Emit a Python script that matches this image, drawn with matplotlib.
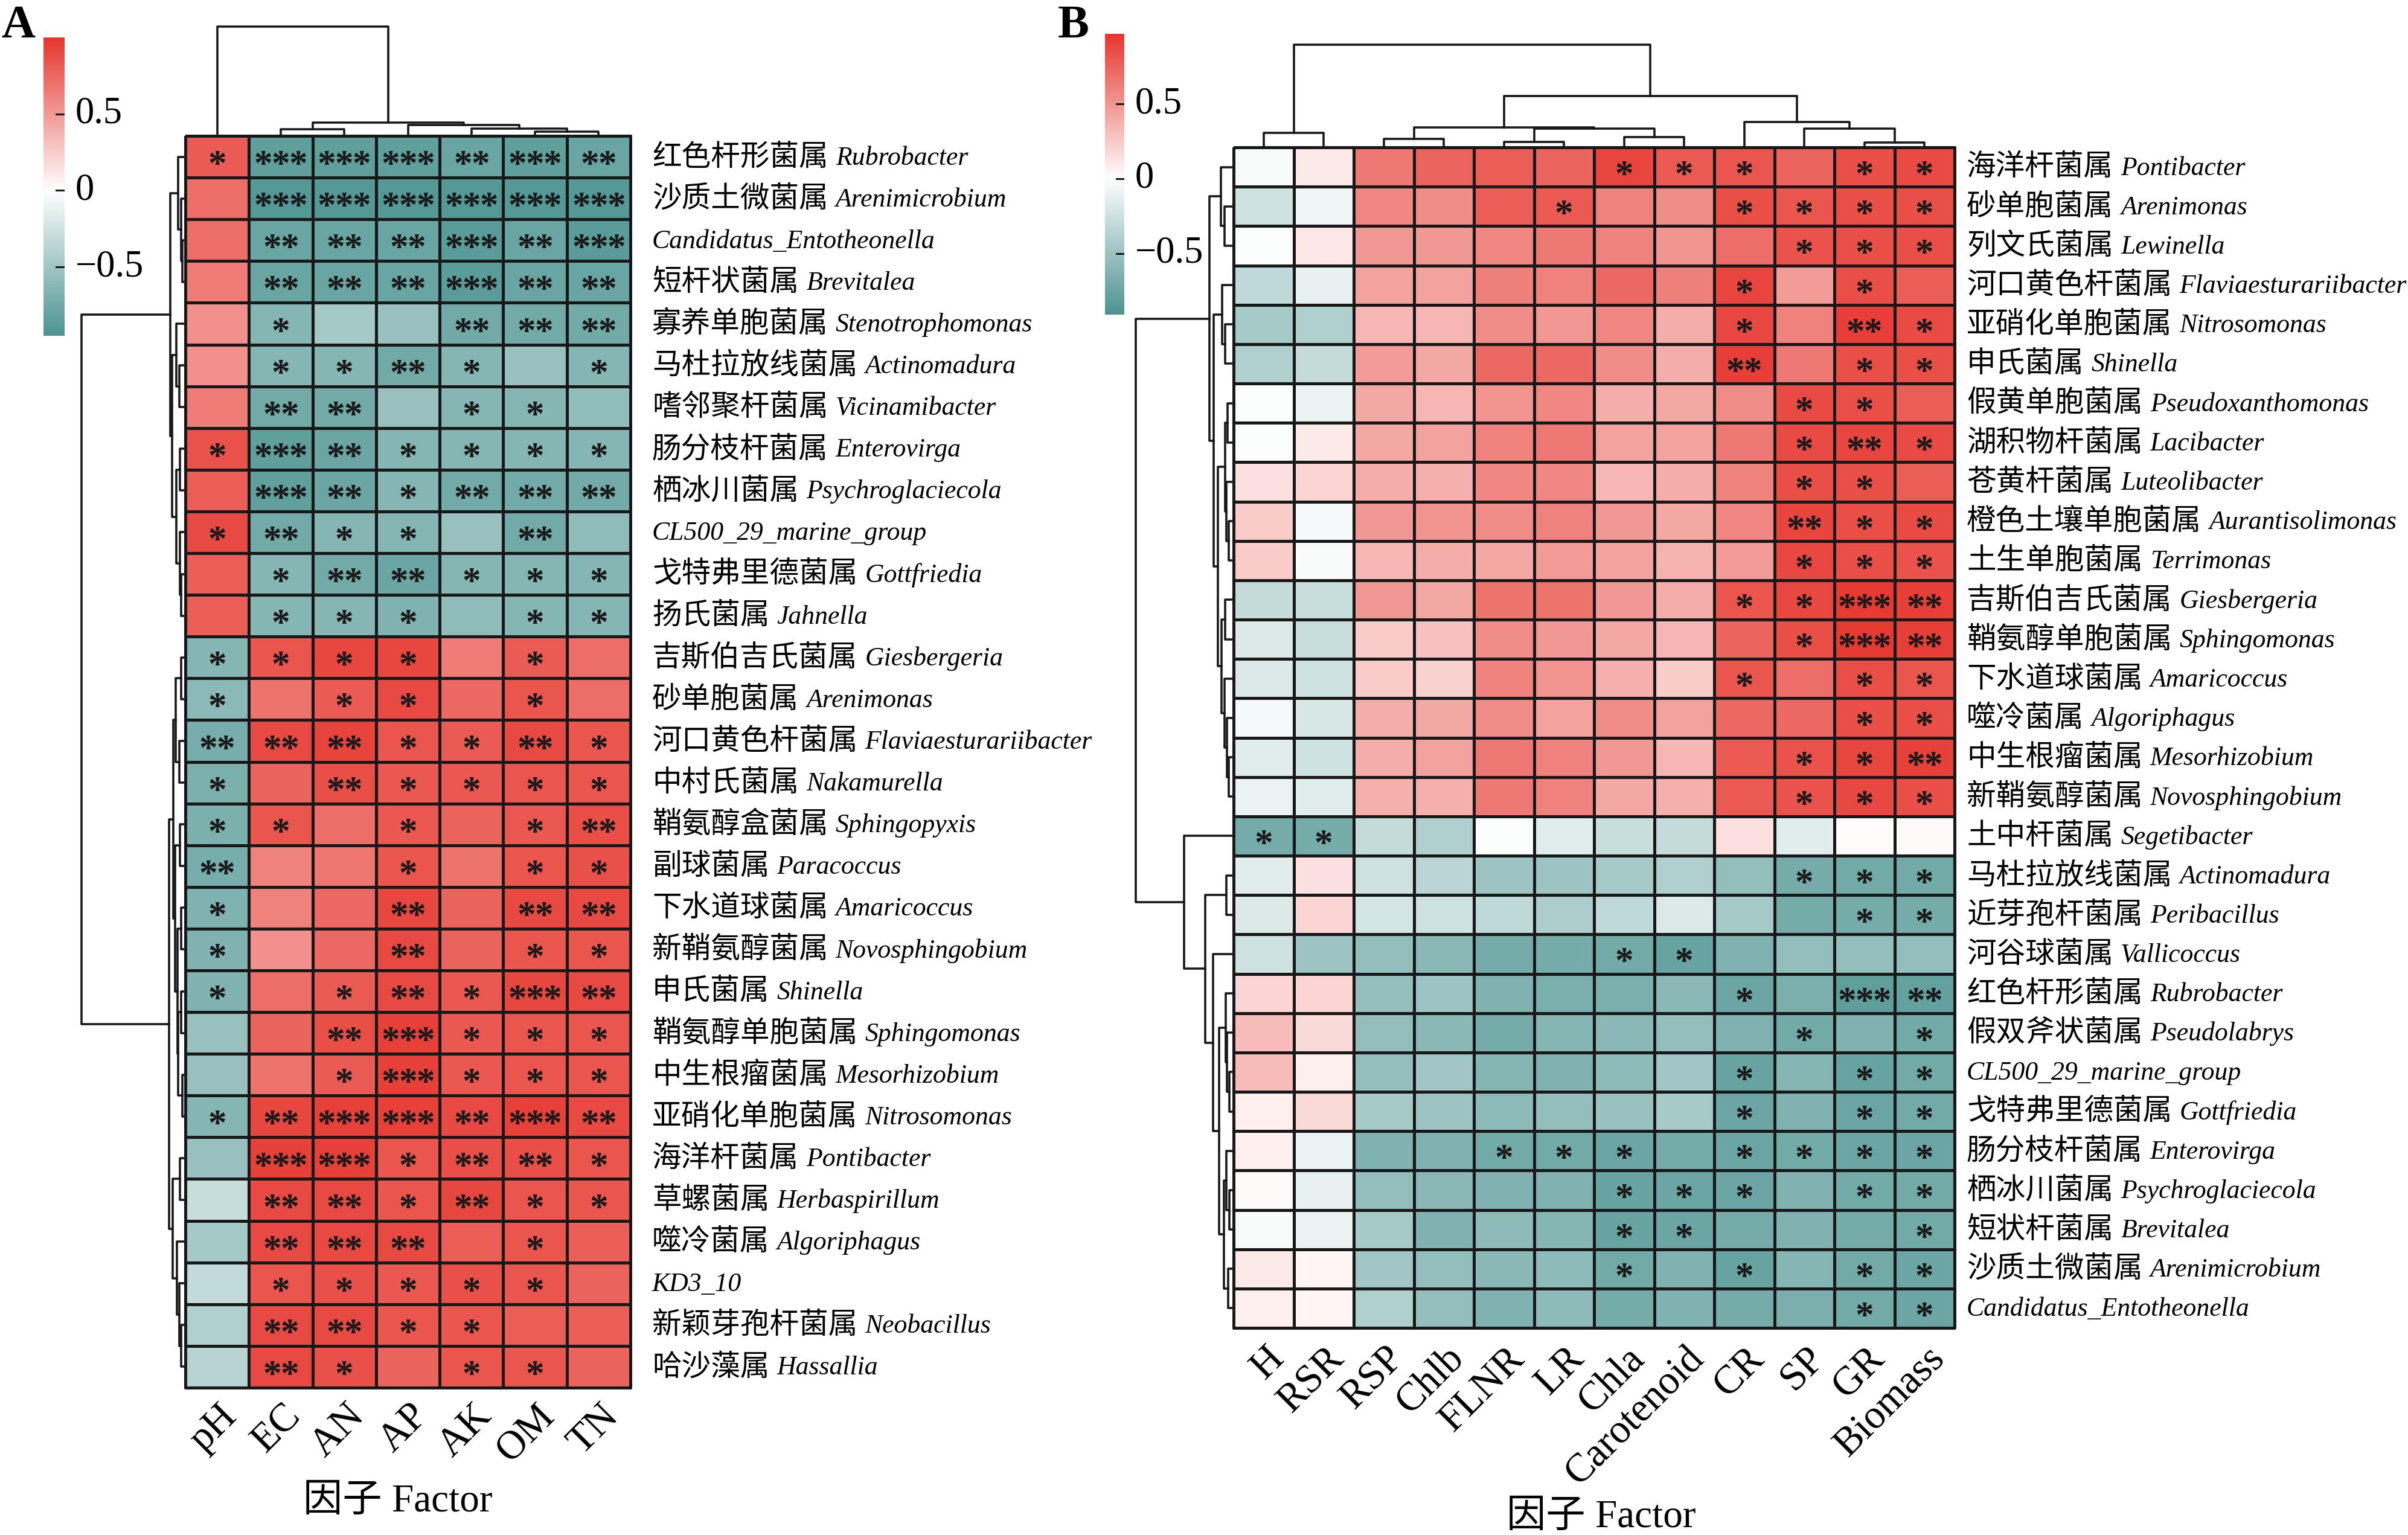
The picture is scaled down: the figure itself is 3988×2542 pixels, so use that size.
import matplotlib
matplotlib.use("Agg")
import matplotlib.pyplot as plt
import numpy as np
from matplotlib.colors import LinearSegmentedColormap, TwoSlopeNorm
from matplotlib.transforms import ScaledTranslation

# ---------------------------------------------------------------- data (A)
A_CN = ["红色杆形菌属", "沙质土微菌属", "", "短杆状菌属", "寡养单胞菌属", "马杜拉放线菌属",
        "嗜邻聚杆菌属", "肠分枝杆菌属", "栖冰川菌属", "", "戈特弗里德菌属", "扬氏菌属",
        "吉斯伯吉氏菌属", "砂单胞菌属", "河口黄色杆菌属", "中村氏菌属", "鞘氨醇盒菌属", "副球菌属",
        "下水道球菌属", "新鞘氨醇菌属", "申氏菌属", "鞘氨醇单胞菌属", "中生根瘤菌属", "亚硝化单胞菌属",
        "海洋杆菌属", "草螺菌属", "噬冷菌属", "", "新颖芽孢杆菌属", "哈沙藻属"]
A_LAT = ["Rubrobacter", "Arenimicrobium", "Candidatus_Entotheonella", "Brevitalea",
         "Stenotrophomonas", "Actinomadura", "Vicinamibacter", "Enterovirga", "Psychroglaciecola",
         "CL500_29_marine_group", "Gottfriedia", "Jahnella", "Giesbergeria", "Arenimonas",
         "Flaviaesturariibacter", "Nakamurella", "Sphingopyxis", "Paracoccus", "Amaricoccus",
         "Novosphingobium", "Shinella", "Sphingomonas", "Mesorhizobium", "Nitrosomonas",
         "Pontibacter", "Herbaspirillum", "Algoriphagus", "KD3_10", "Neobacillus", "Hassallia"]
A_COLS = ["pH", "EC", "AN", "AP", "AK", "OM", "TN"]

A_PH = [0.82, 0.72, 0.72, 0.65, 0.55, 0.55, 0.65, 0.86, 0.80, 0.90, 0.80, 0.80,
        -0.65, -0.62, -0.72, -0.70, -0.70, -0.72, -0.68, -0.68, -0.68, -0.55, -0.55, -0.65,
        -0.55, -0.30, -0.48, -0.32, -0.42, -0.38]
A_EC = [-0.85, -0.90, -0.80, -0.80, -0.65, -0.65, -0.75, -0.85, -0.85, -0.75, -0.65, -0.65,
        0.85, 0.70, 0.90, 0.78, 0.85, 0.62, 0.62, 0.55, 0.72, 0.78, 0.70, 0.92,
        0.95, 0.90, 0.90, 0.85, 0.90, 0.90]
A_AN = [-0.85, -0.90, -0.80, -0.80, -0.48, -0.65, -0.75, -0.78, -0.78, -0.65, -0.75, -0.65,
        0.92, 0.82, 0.93, 0.88, 0.72, 0.68, 0.75, 0.75, 0.82, 0.88, 0.82, 0.95,
        0.95, 0.90, 0.90, 0.87, 0.90, 0.87]
A_AP = [-0.85, -0.90, -0.80, -0.80, -0.55, -0.75, -0.55, -0.65, -0.65, -0.65, -0.78, -0.68,
        0.92, 0.90, 0.85, 0.83, 0.83, 0.85, 0.92, 0.90, 0.90, 0.95, 0.95, 0.95,
        0.85, 0.85, 0.90, 0.83, 0.85, 0.78]
A_AK = [-0.80, -0.90, -0.88, -0.88, -0.75, -0.65, -0.65, -0.65, -0.75, -0.55, -0.65, -0.60,
        0.65, 0.75, 0.82, 0.83, 0.78, 0.70, 0.78, 0.78, 0.83, 0.83, 0.83, 0.90,
        0.88, 0.92, 0.80, 0.87, 0.85, 0.85]
A_OM = [-0.85, -0.90, -0.80, -0.80, -0.75, -0.55, -0.65, -0.65, -0.75, -0.75, -0.65, -0.65,
        0.82, 0.85, 0.90, 0.85, 0.83, 0.85, 0.90, 0.85, 0.92, 0.85, 0.85, 0.95,
        0.88, 0.85, 0.85, 0.85, 0.80, 0.85]
A_TN = [-0.80, -0.90, -0.88, -0.80, -0.75, -0.65, -0.58, -0.65, -0.75, -0.60, -0.65, -0.65,
        0.72, 0.72, 0.85, 0.85, 0.88, 0.87, 0.90, 0.85, 0.90, 0.85, 0.85, 0.90,
        0.85, 0.85, 0.80, 0.78, 0.80, 0.78]

A_PH_SIG = [1, 0, 0, 0, 0, 0, 0, 1, 0, 1, 0, 0, 1, 1, 2, 1, 1, 2, 1, 1, 1, 0, 0, 1, 0, 0, 0, 0, 0, 0]
A_EC_SIG = [3, 3, 2, 2, 1, 1, 2, 3, 3, 2, 1, 1, 1, 0, 2, 0, 1, 0, 0, 0, 0, 0, 0, 2, 3, 2, 2, 1, 2, 2]
A_AN_SIG = [3, 3, 2, 2, 0, 1, 2, 2, 2, 1, 2, 1, 1, 1, 2, 2, 0, 0, 0, 0, 1, 2, 1, 3, 3, 2, 2, 1, 2, 1]
A_AP_SIG = [3, 3, 2, 2, 0, 2, 0, 1, 1, 1, 2, 1, 1, 1, 1, 1, 1, 1, 2, 2, 2, 3, 3, 3, 1, 1, 2, 1, 1, 0]
A_AK_SIG = [2, 3, 3, 3, 2, 1, 1, 1, 2, 0, 1, 0, 0, 0, 1, 1, 0, 0, 0, 0, 1, 1, 1, 2, 2, 2, 0, 1, 1, 1]
A_OM_SIG = [3, 3, 2, 2, 2, 0, 1, 1, 2, 2, 1, 1, 1, 1, 2, 1, 1, 1, 2, 1, 3, 1, 1, 3, 2, 1, 1, 1, 0, 1]
A_TN_SIG = [2, 3, 3, 2, 2, 1, 0, 1, 2, 0, 1, 1, 0, 0, 1, 1, 2, 1, 2, 1, 2, 1, 1, 2, 1, 1, 0, 0, 0, 0]

# merge trees: [height, left, right], leaves are row / column indices
A_ROW_TREE = [172,
              [25,
               [12, 0, [7, 1, [5, 2, 3]]],
               [22,
                [15, 4, [10, 5, 6]],
                [15, [9, 7, 8], [9, 9, [7, 10, 11]]]]],
              [27,
               [20,
                [16, [7, 12, 13], [10, 14, 15]],
                [17, [9, 16, 17], [13, [7, 18, 19], [12, [7, 20, 21], [5, 22, 23]]]]],
               [21, [9, 24, 25], [14, 26, [10, 27, [7, 28, 29]]]]]]
A_COL_TREE = [181, 0, [22, [11, 1, 2], [18, 3, [12, 4, [7, 5, 6]]]]]
A_RANGE = (-0.95, 1.0)

# ---------------------------------------------------------------- data (B)
B_CN = ["海洋杆菌属", "砂单胞菌属", "列文氏菌属", "河口黄色杆菌属", "亚硝化单胞菌属", "申氏菌属",
        "假黄单胞菌属", "湖积物杆菌属", "苍黄杆菌属", "橙色土壤单胞菌属", "土生单胞菌属",
        "吉斯伯吉氏菌属", "鞘氨醇单胞菌属", "下水道球菌属", "噬冷菌属", "中生根瘤菌属", "新鞘氨醇菌属",
        "土中杆菌属", "马杜拉放线菌属", "近芽孢杆菌属", "河谷球菌属", "红色杆形菌属", "假双斧状菌属",
        "", "戈特弗里德菌属", "肠分枝杆菌属", "栖冰川菌属", "短状杆菌属", "沙质土微菌属", ""]
B_LAT = ["Pontibacter", "Arenimonas", "Lewinella", "Flaviaesturariibacter", "Nitrosomonas",
         "Shinella", "Pseudoxanthomonas", "Lacibacter", "Luteolibacter", "Aurantisolimonas",
         "Terrimonas", "Giesbergeria", "Sphingomonas", "Amaricoccus", "Algoriphagus",
         "Mesorhizobium", "Novosphingobium", "Segetibacter", "Actinomadura", "Peribacillus",
         "Vallicoccus", "Rubrobacter", "Pseudolabrys", "CL500_29_marine_group", "Gottfriedia",
         "Enterovirga", "Psychroglaciecola", "Brevitalea", "Arenimicrobium",
         "Candidatus_Entotheonella"]
B_COLS = ["H", "RSR", "RSP", "Chlb", "FLNR", "LR", "Chla", "Carotenoid", "CR", "SP", "GR", "Biomass"]

B_H = [-0.03, -0.25, -0.02, -0.32, -0.45, -0.40, -0.02, -0.02, 0.15, 0.25, 0.25, -0.30, -0.18,
       -0.18, -0.05, -0.15, -0.10, -0.70, -0.15, -0.18, -0.25, 0.20, 0.32, 0.32, 0.08, 0.08,
       0.03, -0.03, 0.10, 0.08]
B_RSR = [0.10, -0.08, 0.12, -0.12, -0.40, -0.30, -0.10, 0.10, 0.20, -0.05, -0.03, -0.28, -0.28,
         -0.25, -0.20, -0.25, -0.15, -0.70, 0.15, 0.20, -0.50, 0.20, 0.18, 0.08, 0.18, -0.10,
         -0.12, -0.10, 0.05, 0.05]
B_RSP = [0.65, 0.58, 0.50, 0.45, 0.35, 0.48, 0.42, 0.42, 0.40, 0.50, 0.35, 0.50, 0.25,
         0.25, 0.40, 0.40, 0.38, -0.30, -0.25, -0.22, -0.55, -0.55, -0.55, -0.55, -0.45, -0.65,
         -0.55, -0.45, -0.48, -0.40]
B_CHLB = [0.75, 0.55, 0.50, 0.45, 0.35, 0.42, 0.35, 0.45, 0.38, 0.52, 0.40, 0.42, 0.30,
          0.22, 0.42, 0.45, 0.38, -0.40, -0.35, -0.25, -0.60, -0.50, -0.60, -0.48, -0.50, -0.65,
          -0.60, -0.65, -0.55, -0.55]
B_FLNR = [0.78, 0.78, 0.58, 0.62, 0.55, 0.72, 0.52, 0.60, 0.58, 0.55, 0.42, 0.68, 0.55,
          0.60, 0.55, 0.65, 0.65, -0.02, -0.50, -0.32, -0.70, -0.65, -0.70, -0.62, -0.58, -0.72,
          -0.65, -0.58, -0.60, -0.65]
B_LR = [0.75, 0.80, 0.65, 0.60, 0.50, 0.72, 0.58, 0.65, 0.58, 0.60, 0.48, 0.68, 0.50,
        0.52, 0.45, 0.60, 0.60, -0.15, -0.50, -0.42, -0.70, -0.68, -0.62, -0.65, -0.55, -0.72,
        -0.65, -0.62, -0.58, -0.58]
B_CHLA = [0.90, 0.60, 0.60, 0.72, 0.58, 0.55, 0.40, 0.45, 0.35, 0.50, 0.45, 0.50, 0.42,
          0.38, 0.55, 0.50, 0.42, -0.28, -0.45, -0.32, -0.72, -0.68, -0.60, -0.58, -0.52, -0.75,
          -0.78, -0.78, -0.72, -0.70]
B_CAROT = [0.80, 0.55, 0.52, 0.62, 0.40, 0.40, 0.42, 0.45, 0.40, 0.42, 0.37, 0.40, 0.35,
           0.25, 0.45, 0.35, 0.38, -0.30, -0.40, -0.18, -0.78, -0.60, -0.55, -0.48, -0.45, -0.70,
           -0.75, -0.75, -0.65, -0.65]
B_CR = [0.82, 0.85, 0.70, 0.90, 0.88, 0.93, 0.55, 0.65, 0.60, 0.58, 0.48, 0.82, 0.75,
        0.82, 0.72, 0.80, 0.80, 0.15, -0.55, -0.45, -0.65, -0.75, -0.65, -0.78, -0.75, -0.75,
        -0.75, -0.70, -0.78, -0.70]
B_SP = [0.75, 0.82, 0.83, 0.48, 0.60, 0.65, 0.87, 0.87, 0.85, 0.90, 0.88, 0.88, 0.85,
        0.70, 0.72, 0.83, 0.83, -0.15, -0.70, -0.70, -0.55, -0.68, -0.72, -0.62, -0.65, -0.72,
        -0.65, -0.65, -0.62, -0.68]
B_GR = [0.85, 0.85, 0.85, 0.85, 0.93, 0.85, 0.85, 0.90, 0.85, 0.85, 0.85, 0.95, 0.95,
        0.85, 0.85, 0.90, 0.88, 0.02, -0.72, -0.70, -0.55, -0.82, -0.65, -0.78, -0.75, -0.75,
        -0.72, -0.70, -0.72, -0.72]
B_BIO = [0.87, 0.85, 0.85, 0.78, 0.87, 0.85, 0.78, 0.87, 0.78, 0.87, 0.83, 0.93, 0.93,
         0.82, 0.85, 0.92, 0.85, 0.03, -0.72, -0.70, -0.55, -0.80, -0.72, -0.72, -0.72, -0.75,
         -0.72, -0.72, -0.75, -0.75]

B_H_SIG = [0] * 17 + [1] + [0] * 12
B_RSR_SIG = [0] * 17 + [1] + [0] * 12
B_RSP_SIG = [0] * 30
B_CHLB_SIG = [0] * 30
B_FLNR_SIG = [0] * 25 + [1, 0, 0, 0, 0]
B_LR_SIG = [0, 1] + [0] * 23 + [1, 0, 0, 0, 0]
B_CHLA_SIG = [1] + [0] * 19 + [1, 0, 0, 0, 0, 1, 1, 1, 1, 0]
B_CAROT_SIG = [1] + [0] * 19 + [1, 0, 0, 0, 0, 0, 1, 1, 0, 0]
B_CR_SIG = [1, 1, 0, 1, 1, 2, 0, 0, 0, 0, 0, 1, 0, 1, 0, 0, 0, 0, 0, 0, 0, 1, 0, 1, 1, 1, 1, 0, 1, 0]
B_SP_SIG = [0, 1, 1, 0, 0, 0, 1, 1, 1, 2, 1, 1, 1, 0, 0, 1, 1, 0, 1, 0, 0, 0, 1, 0, 0, 1, 0, 0, 0, 0]
B_GR_SIG = [1, 1, 1, 1, 2, 1, 1, 2, 1, 1, 1, 3, 3, 1, 1, 1, 1, 0, 1, 1, 0, 3, 0, 1, 1, 1, 1, 0, 1, 1]
B_BIO_SIG = [1, 1, 1, 0, 1, 1, 0, 1, 0, 1, 1, 2, 2, 1, 1, 2, 1, 0, 1, 1, 0, 2, 1, 1, 1, 1, 1, 1, 1, 1]

B_ROW_TREE = [162,
              [40,
               [21, 0, [15, 1, 2]],
               [33,
                [19, 3, [14, 4, 5]],
                [26,
                 [14, [10, 6, 7], [12, 8, [8, 9, 10]]],
                 [20, [14, 11, 12], [15, 13, [11, 14, [8, 15, 16]]]]]]],
              [82, 17,
               [47, [12, 18, 19],
                [34, 20,
                 [24, [13, 21, [11, 22, [7, 23, 24]]],
                  [16, [12, 25, [7, 26, 27]], [9, 28, 29]]]]]]]
B_COL_TREE = [170, [24, 0, 1],
              [85, [33, [14, 2, 3], [31, [9, 4, 5], [17, 6, 7]]],
               [42, 8, [31, 9, [8, 10, 11]]]]]
B_RANGE = (-0.91, 0.97)

# ---------------------------------------------------------------- figure
W, H = 3988, 2542
fig = plt.figure(figsize=(W / 100, H / 100), dpi=100)
fig.patch.set_facecolor("white")
renderer = fig.canvas.get_renderer()

CMAP = LinearSegmentedColormap.from_list("tealred", ["#4d9491", "#ffffff", "#e6372f"])
LINE = "#181818"
SERIF = ["Liberation Serif", "Noto Sans CJK SC"]
STAR_FS = 44
STAR_STEP = 29  # px between neighbouring stars


def px_axes(x0, y0, x1, y1):
    """Axes from pixel box (top-left origin)."""
    return fig.add_axes([x0 / W, 1 - y1 / H, (x1 - x0) / W, (y1 - y0) / H])


def ftext(x, y, s, **kw):
    return fig.text(x / W, 1 - y / H, s, **kw)


def draw_tree(ax, node, orient):
    if isinstance(node, int):
        return node + 0.5, 0.0
    h, left, right = node
    cl, hl = draw_tree(ax, left, orient)
    cr, hr = draw_tree(ax, right, orient)
    pos = [cl, cl, cr, cr]
    hts = [hl, h, h, hr]
    if orient == "left":
        ax.plot(hts, pos, color=LINE, lw=2.6, solid_capstyle="projecting", clip_on=False)
    else:
        ax.plot(pos, hts, color=LINE, lw=2.6, solid_capstyle="projecting", clip_on=False)
    return (cl + cr) / 2, h


def panel(box, values, sigs, cols, cn, lat, row_tree, col_tree, vrange,
          cbar_box, letter_xy, xlab_gap, factor_xy, lab_gap):
    x0, y0, x1, y1 = box
    data = np.array(values).T
    sig = np.array(sigs).T
    nr, nc = data.shape
    cw = (x1 - x0) / nc
    rh = (y1 - y0) / nr
    norm = TwoSlopeNorm(vmin=vrange[0], vcenter=0.0, vmax=vrange[1])

    ax = px_axes(x0, y0, x1, y1)
    mesh = ax.pcolormesh(np.arange(nc + 1), np.arange(nr + 1), data, cmap=CMAP, norm=norm,
                         edgecolors=LINE, linewidth=2.5)
    mesh.set_clip_on(False)
    ax.set_xlim(0, nc)
    ax.set_ylim(nr, 0)
    ax.axis("off")
    for i in range(nr):
        for j in range(nc):
            k = sig[i, j]
            for m in range(k):
                dx = (m - (k - 1) / 2) * STAR_STEP / 100
                tr = ax.transData + ScaledTranslation(dx, -0.50 * STAR_FS / 72,
                                                      fig.dpi_scale_trans)
                ax.text(j + 0.5, i + 0.5, "*", transform=tr, ha="center", va="baseline",
                        fontsize=STAR_FS, fontweight="bold", family="Liberation Serif",
                        color=LINE)

    # dendrograms
    rt = row_tree[0]
    axr = px_axes(x0 - rt, y0, x0, y1)
    draw_tree(axr, row_tree, "left")
    axr.set_xlim(rt, 0)
    axr.set_ylim(nr, 0)
    axr.axis("off")
    ct = col_tree[0]
    axc = px_axes(x0, y0 - ct, x1, y0)
    draw_tree(axc, col_tree, "top")
    axc.set_xlim(0, nc)
    axc.set_ylim(0, ct)
    axc.axis("off")

    # colour bar
    bx0, by0, bx1, by1 = cbar_box
    axb = px_axes(bx0, by0, bx1, by1)
    grad = np.linspace(vrange[0], vrange[1], 400)[:, None]
    axb.imshow(grad, cmap=CMAP, norm=norm, aspect="auto", origin="lower",
               extent=[0, 1, vrange[0], vrange[1]])
    for t, lab in [(0.5, "0.5"), (0.0, "0"), (-0.5, "\u22120.5")]:
        axb.plot([0.6, 1.0], [t, t], color=LINE, lw=2.2)
        yt = by1 - (t - vrange[0]) / (vrange[1] - vrange[0]) * (by1 - by0)
        ftext(bx1 + 18, yt, lab, fontsize=45, family="Liberation Serif", va="center", ha="left")
    axb.set_xlim(0, 1)
    axb.set_ylim(*vrange)
    axb.axis("off")

    ftext(letter_xy[0], letter_xy[1], letter_xy[2], fontsize=56, fontweight="bold",
          family="Liberation Serif", ha="left", va="top")

    # row labels: upright Chinese name + italic genus
    for i in range(nr):
        yc = y0 + (i + 0.5) * rh
        xl = x1 + lab_gap
        if cn[i]:
            t = ftext(xl, yc, cn[i], fontsize=35, family="Noto Sans CJK SC",
                      ha="left", va="center")
            xl = t.get_window_extent(renderer).x1 + 12
        ftext(xl, yc + 2, lat[i], fontsize=31.5, family="Liberation Serif",
              style="italic", ha="left", va="center")

    # column labels
    for j in range(nc):
        ftext(x0 + (j + 0.5) * cw + 2, y1 + xlab_gap, cols[j], fontsize=48,
              family="Liberation Serif", rotation=45, rotation_mode="anchor",
              ha="right", va="top")
    ftext(factor_xy[0], factor_xy[1], "因子 Factor", fontsize=47, family=SERIF,
          ha="center", va="center")


panel((307, 225, 1044, 2298),
      [A_PH, A_EC, A_AN, A_AP, A_AK, A_OM, A_TN],
      [A_PH_SIG, A_EC_SIG, A_AN_SIG, A_AP_SIG, A_AK_SIG, A_OM_SIG, A_TN_SIG],
      A_COLS, A_CN, A_LAT, A_ROW_TREE, A_COL_TREE, A_RANGE,
      (72, 62, 107, 556), (2, 8, "A"), 16, (659, 2487), 36)

panel((2043, 244, 3237, 2199),
      [B_H, B_RSR, B_RSP, B_CHLB, B_FLNR, B_LR, B_CHLA, B_CAROT, B_CR, B_SP, B_GR, B_BIO],
      [B_H_SIG, B_RSR_SIG, B_RSP_SIG, B_CHLB_SIG, B_FLNR_SIG, B_LR_SIG, B_CHLA_SIG,
       B_CAROT_SIG, B_CR_SIG, B_SP_SIG, B_GR_SIG, B_BIO_SIG],
      B_COLS, B_CN, B_LAT, B_ROW_TREE, B_COL_TREE, B_RANGE,
      (1830, 56, 1862, 521), (1752, 8, "B"), 20, (2652, 2513), 20)

fig.savefig("out.png", dpi=100, facecolor="white")
